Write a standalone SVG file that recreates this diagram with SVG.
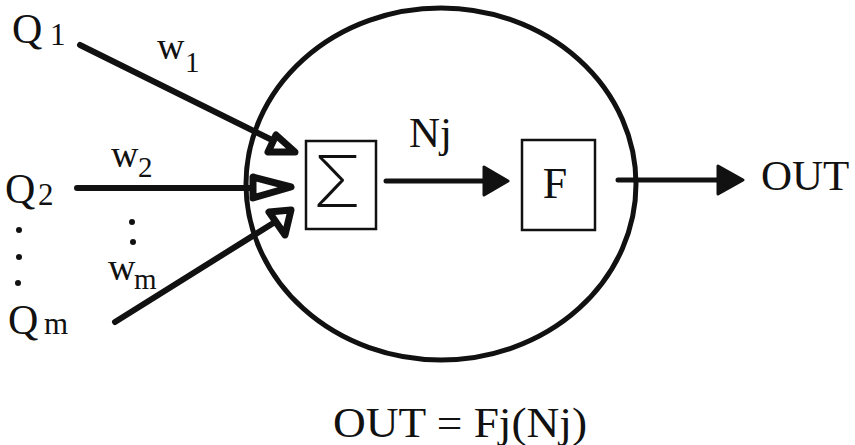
<svg xmlns="http://www.w3.org/2000/svg" width="855" height="445" viewBox="0 0 855 445">
<style>
.t{font-family:"Liberation Serif","Times New Roman",serif;fill:#111}
.ln{stroke:#111;stroke-width:6;stroke-linecap:round;fill:none}
.ln2{stroke:#111;stroke-width:5;stroke-linecap:round;fill:none}
.ah{fill:#fff;stroke:#111;stroke-width:7;stroke-linejoin:round}
.ahs{fill:#111;stroke:#111;stroke-width:3;stroke-linejoin:round}
.box{fill:#fff;stroke:#111;stroke-width:2.5}
</style>
<rect width="855" height="445" fill="#fff"/>
<g id="neuron">
<ellipse cx="441" cy="184" rx="195" ry="176" fill="none" stroke="#111" stroke-width="5"/>
</g>
<g id="sum">
<rect class="box" x="306" y="141" width="70" height="88"/>
<text x="337" y="207" font-family="Inter,'DejaVu Sans',sans-serif" font-weight="200" font-size="72" text-anchor="middle" fill="#111">Σ</text>
</g>
<g id="f">
<rect class="box" x="522" y="140" width="73" height="90"/>
<text class="t" x="555" y="198" font-size="44" text-anchor="middle">F</text>
</g>
<g id="inputs">
<text class="t" x="12" y="43" font-size="42">Q</text>
<text class="t" x="50" y="45" font-size="31">1</text>
<text class="t" x="5" y="203" font-size="42">Q</text>
<text class="t" x="38" y="205" font-size="31">2</text>
<text class="t" x="8" y="334" font-size="42">Q</text>
<text class="t" x="44" y="334" font-size="31">m</text>
<circle cx="19" cy="230" r="3" fill="#111"/>
<circle cx="19" cy="257" r="3" fill="#111"/>
<circle cx="18" cy="283" r="3" fill="#111"/>
</g>
<g id="weights">
<text class="t" x="157" y="59" font-size="38">w</text>
<text class="t" x="185" y="72" font-size="29">1</text>
<text class="t" x="111" y="167" font-size="38">w</text>
<text class="t" x="138" y="177" font-size="29">2</text>
<text class="t" x="108" y="280" font-size="38">w</text>
<text class="t" x="134" y="289" font-size="29">m</text>
<circle cx="132" cy="222" r="3" fill="#111"/>
<circle cx="133" cy="242" r="3" fill="#111"/>
</g>
<g id="labels">
<text class="t" x="409" y="147" font-size="43">Nj</text>
<text class="t" x="761" y="190" font-size="43">OUT</text>
<text class="t" x="333" y="437" font-size="42" textLength="254" lengthAdjust="spacingAndGlyphs">OUT = Fj(Nj)</text>
</g>
<g id="connectors">
<line class="ln" x1="80" y1="45" x2="272" y2="140"/>
<polygon class="ah" points="276,135 268,152 295,152"/>
<line class="ln" x1="77" y1="188" x2="252" y2="188"/>
<polygon class="ah" points="253,177 253,198 291,187"/>
<line class="ln" x1="115" y1="322" x2="275" y2="222"/>
<polygon class="ah" points="269,212 291,210 285,235"/>
<line class="ln2" x1="386" y1="181" x2="486" y2="181"/>
<polygon class="ahs" points="484,167 484,195 508,181"/>
<line class="ln2" x1="618" y1="180" x2="720" y2="180"/>
<polygon class="ahs" points="718,166 718,194 743,180"/>
</g>
</svg>
